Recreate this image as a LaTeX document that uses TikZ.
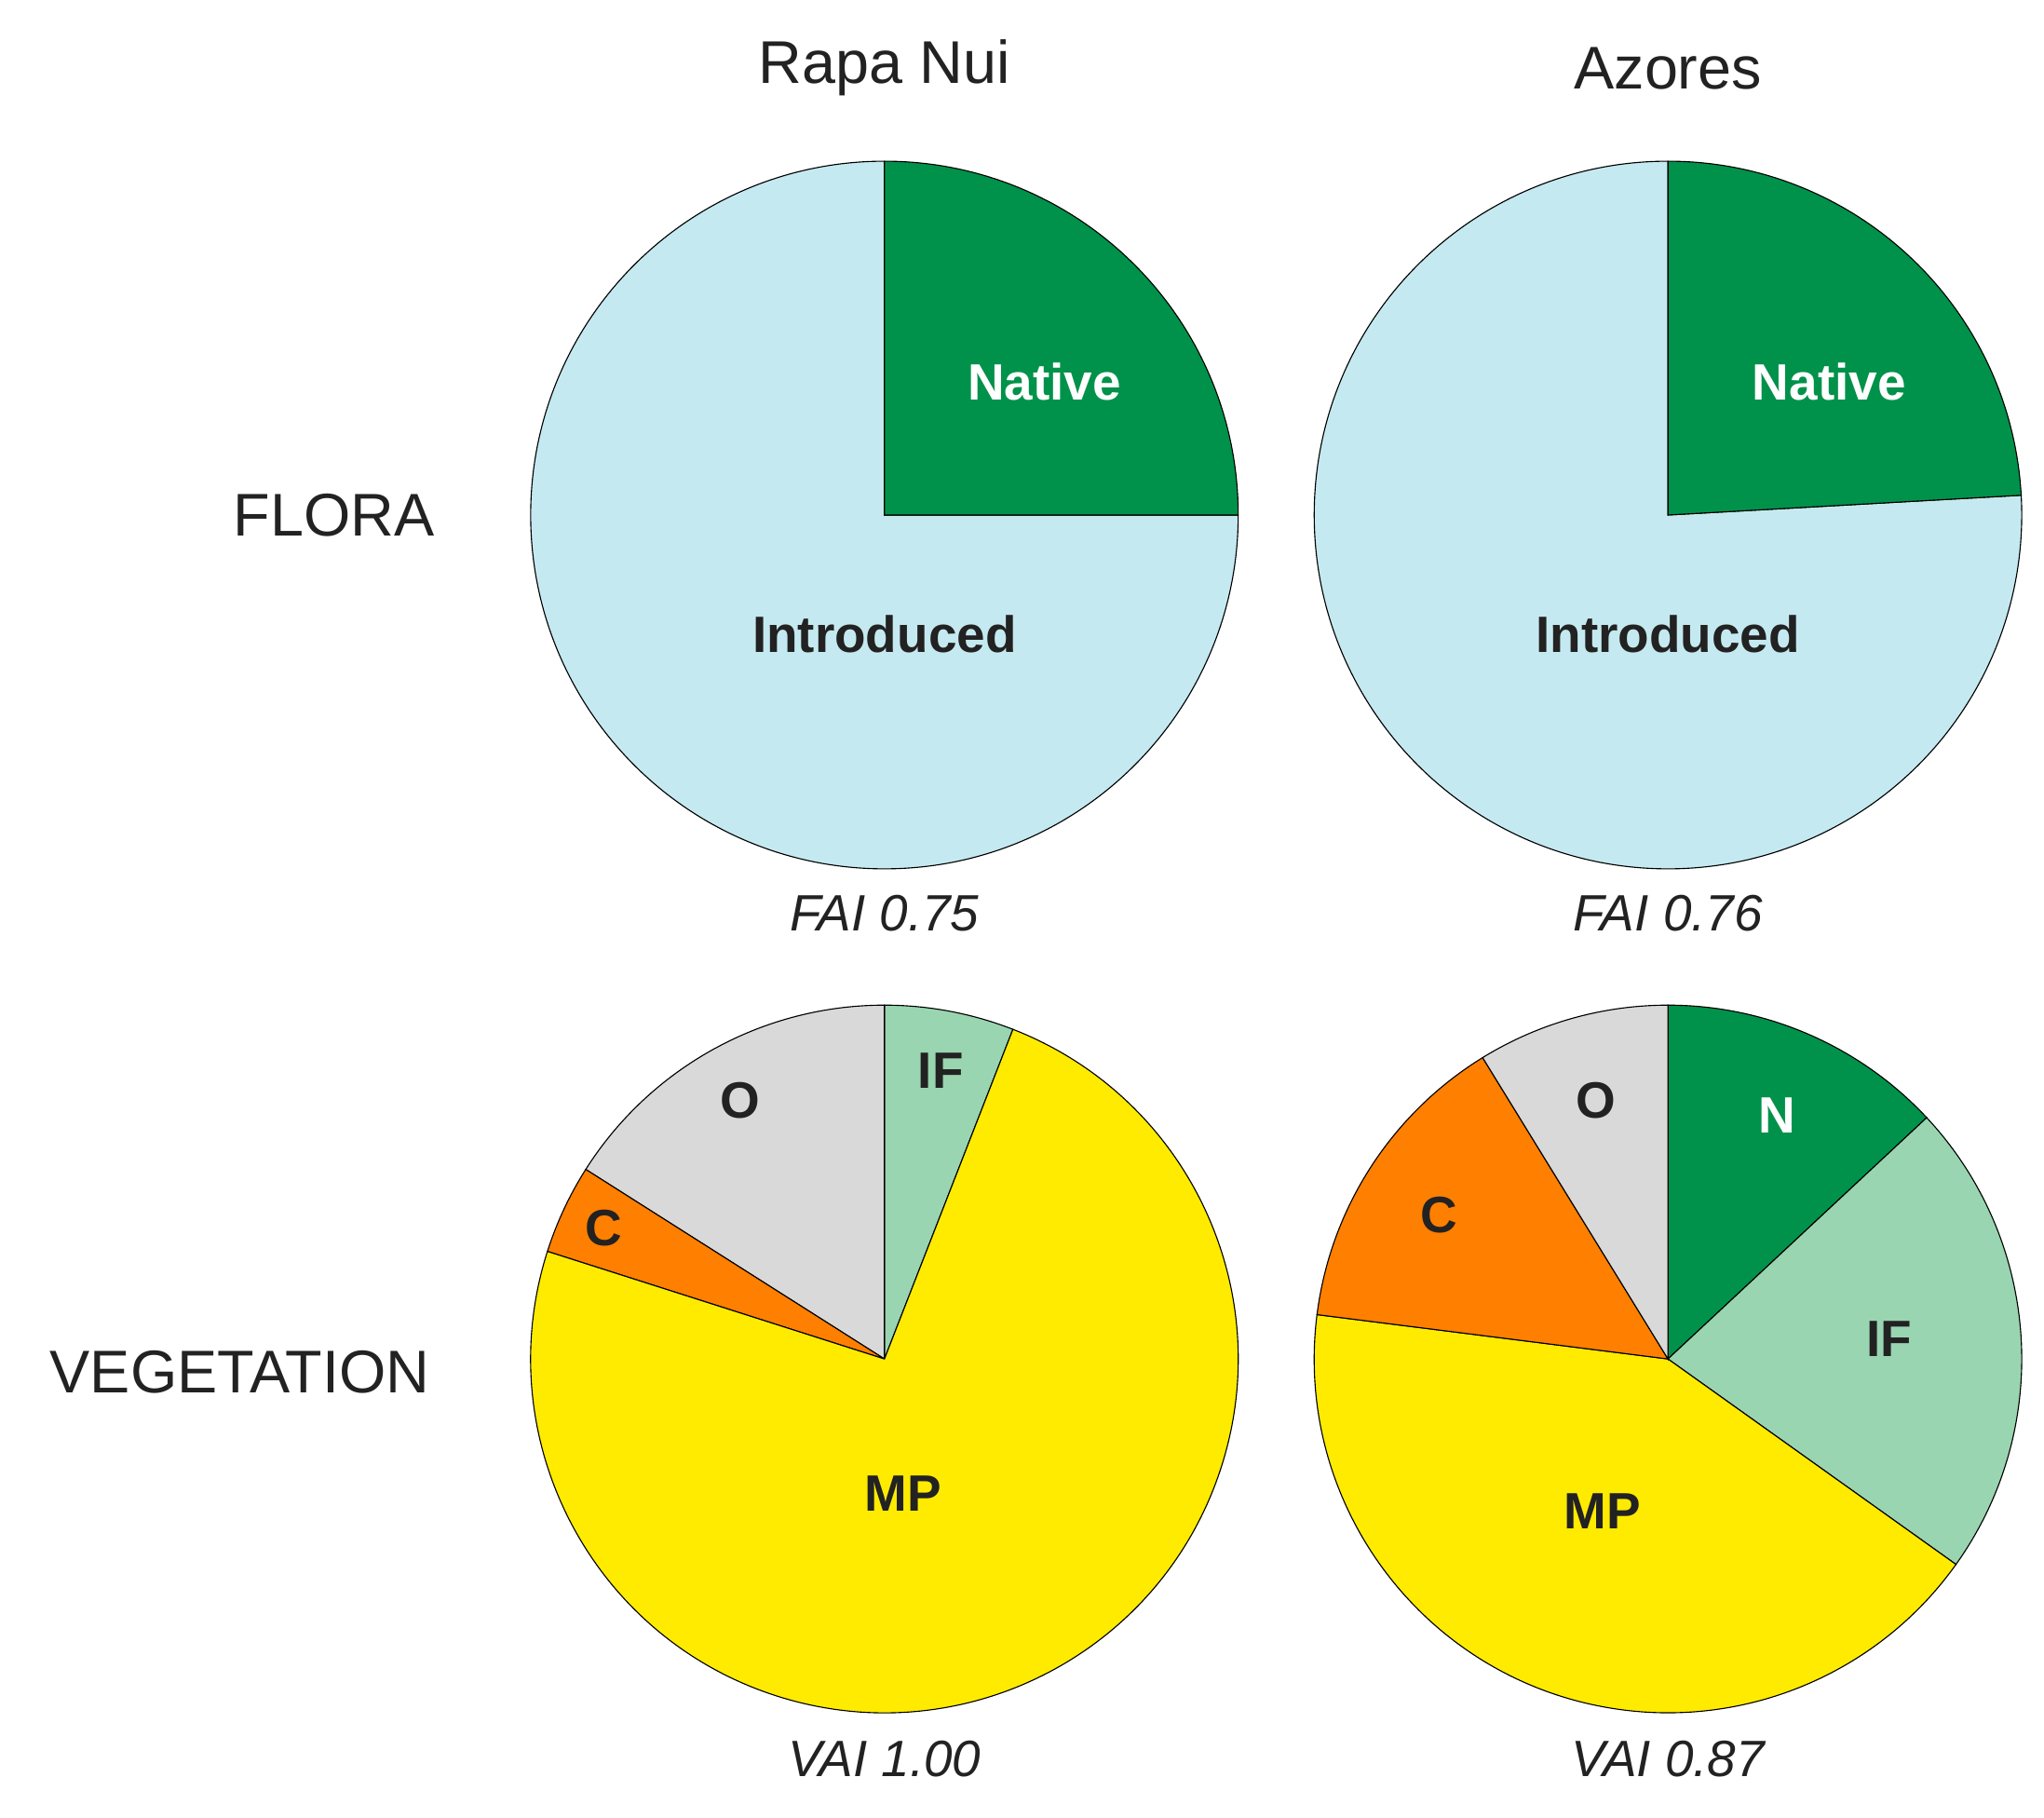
\documentclass[tikz,border=0pt]{standalone}
\usepackage{fontspec}
\setmainfont{Liberation Sans}
\definecolor{lblue}{HTML}{C5E9F0}
\definecolor{dgreen}{HTML}{00924A}
\definecolor{lgreen}{HTML}{99D5B0}
\definecolor{yel}{HTML}{FFEB00}
\definecolor{ora}{HTML}{FF7F00}
\definecolor{gry}{HTML}{D9D9D9}
\definecolor{txt}{HTML}{222222}
\newcommand{\myslice}[5]{\filldraw[fill=#5,draw=black,line width=0.8pt] (#1,-#2) -- ++(#3:270) arc[start angle=#3,end angle=#4,radius=270] -- cycle;}
\tikzset{title/.style={font=\fontsize{46}{50}\selectfont,text=txt},
lab/.style={font=\fontsize{39}{42}\selectfont\bfseries,text=txt},
wlab/.style={font=\fontsize{39}{42}\selectfont\bfseries,text=white},
idx/.style={font=\fontsize{39}{42}\selectfont\itshape,text=txt}}
\begin{document}
\begin{tikzpicture}[x=1pt,y=1pt]
\useasboundingbox (0,0) rectangle (1560,-1387);
\myslice{675}{393}{90}{360}{lblue}
\myslice{675}{393}{0}{90}{dgreen}
\myslice{1273}{393}{90}{363.2}{lblue}
\myslice{1273}{393}{3.2}{90}{dgreen}
\myslice{675}{1037}{68.7}{90}{lgreen}
\myslice{675}{1037}{90}{147.6}{gry}
\myslice{675}{1037}{147.6}{162.3}{ora}
\myslice{675}{1037}{162.3}{428.7}{yel}
\myslice{1273}{1037}{43}{90}{dgreen}
\myslice{1273}{1037}{-35.5}{43}{lgreen}
\myslice{1273}{1037}{172.8}{324.5}{yel}
\myslice{1273}{1037}{121.6}{172.8}{ora}
\myslice{1273}{1037}{90}{121.6}{gry}
\node[title] (t1) at (675,-52) {Rapa Nui};
\node[title] (t2) at (1273,-52) {Azores};
\node[title] (fl) at (255,-393) {FLORA};
\node[title] (vg) at (183,-1047) {VEGETATION};
\node[idx] (f1) at (675,-697) {FAI 0.75};
\node[idx] (f2) at (1273,-697) {FAI 0.76};
\node[idx] (v1) at (675,-1342) {VAI 1.00};
\node[idx] (v2) at (1273,-1342) {VAI 0.87};
\node[wlab] (n1) at (797,-291) {Native};
\node[lab] (i1) at (675,-484) {Introduced};
\node[wlab] (n2) at (1396,-291) {Native};
\node[lab] (i2) at (1273,-484) {Introduced};
\node[lab] (a1) at (718,-817) {IF};
\node[lab] (a2) at (565,-840) {O};
\node[lab] (a3) at (461,-937) {C};
\node[lab] (a4) at (689,-1140) {MP};
\node[wlab] (b1) at (1356,-851) {N};
\node[lab] (b2) at (1218,-840) {O};
\node[lab] (b3) at (1098,-927) {C};
\node[lab] (b4) at (1442,-1022) {IF};
\node[lab] (b5) at (1223,-1153) {MP};
\end{tikzpicture}
\end{document}
